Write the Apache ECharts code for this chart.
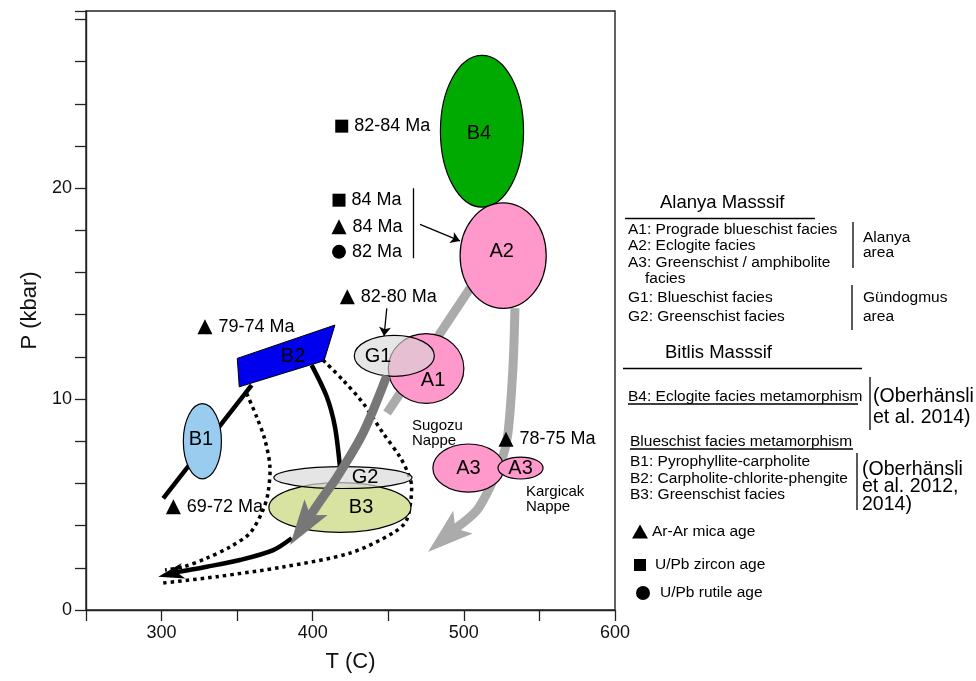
<!DOCTYPE html>
<html>
<head>
<meta charset="utf-8">
<script src="https://cdn.jsdelivr.net/npm/echarts@6/dist/echarts.min.js"></script>
<style>
  html, body { margin: 0; padding: 0; background: #fff; }
  #chart { width: 976px; height: 681px; }
</style>
</head>
<body>
<div id="chart"></div>
<script>
// ---- P–T data: temperature (°C) vs pressure (kbar) ----
const tempTicks = [300, 400, 500, 600];
const pressTicks = [0, 10, 20];

// Metamorphic fields: centre T, centre P, half extent in T, half extent in P
const fieldNames  = ['B4', 'A2', 'A1', 'A3', 'A3', 'B1', 'B3', 'G2', 'G1'];
const fieldT      = [512, 526, 475, 503, 537.5, 327, 418, 420, 454];
const fieldP      = [22.7, 16.8, 11.45, 6.73, 6.73, 8.0, 4.86, 6.28, 12.05];
const fieldHalfT  = [27.5, 28.5, 25, 23.5, 14.9, 12.6, 47, 45.7, 26.5];
const fieldHalfP  = [3.6, 2.5, 1.65, 1.14, 0.52, 1.78, 1.18, 0.52, 0.97];
const fieldLabelT = [510, 525, 479.6, 503, 537.5, 326, 432, 434.6, 443.2];
const fieldLabelP = [22.6, 17.0, 10.9, 6.73, 6.73, 8.1, 4.88, 6.3, 12.04];

// B2 field (carpholite-chlorite-phengite) outline
const b2T = [350.1, 414.7, 407.5, 351.4];
const b2P = [11.93, 13.51, 11.82, 10.58];

// P–T paths as [T, P] pairs
const pathA2toA1   = [[504.1, 15.26], [449.2, 9.34]];
const pathA2toA3   = [[533.8, 14.31], [532.5, 11.52], [529.2, 8.39], [525.2, 7.11], [517.3, 5.83], [508.7, 4.74], [476.3, 2.75]];
const pathG1toG2   = [[449, 11.1], [433.3, 8.39], [416.1, 6.30], [406.8, 5.36], [385, 3.08]];
const pathB1toB2   = [[301.1, 5.29], [359.6, 10.66]];
const pathB2toG2   = [[399.3, 11.61], [409.3, 10.11], [414.7, 8.69], [418, 6.79]];
const pathB3exit   = [[386.1, 3.40], [373.9, 2.84], [351.9, 2.37], [329.9, 2.05], [312.2, 1.82], [297.8, 1.58]];
const envelopeLeft = [[356.3, 10.27], [362.9, 9.16], [368.4, 8.06], [371.7, 6.79], [370.4, 5.54], [367.1, 4.74], [358.5, 3.65], [345.3, 2.99], [329.9, 2.46], [314.2, 2.04], [302.3, 1.90]];
const envelopeRight = [[406.8, 11.85], [420, 10.9], [433.3, 9.81], [446.5, 8.39], [457.8, 7.25], [463, 6.49], [465.5, 5.84], [462.2, 4.27], [453.1, 3.65], [424.7, 2.70], [380.3, 2.04], [336.5, 1.58], [301, 1.28]];

// Geochronology: [T, P, age]
const micaAges   = [[417.4, 18.17, '84 Ma'], [422.9, 14.85, '82-80 Ma'], [328.7, 13.43, '79-74 Ma'], [307.8, 4.9, '69-72 Ma'], [527.9, 8.09, '78-75 Ma']];
const zirconAges = [[419.2, 22.94, '82-84 Ma'], [417.4, 19.43, '84 Ma']];
const rutileAges = [[417.4, 16.98, '82 Ma']];

// Bracket and pointers tying ages to fields
const ageBracket = [[466.2, 20.0], [466.2, 16.68]];
const pointerA2  = [[471, 18.28], [497.4, 17.5]];
const pointerG1  = [[449, 14.3], [447.2, 12.99]];

// Nappe names: [T, P, text]
const nappeNames = [[465.7, 8.72, 'Sugozu'], [465.7, 8.01, 'Nappe'], [541.1, 5.59, 'Kargicak'], [541.1, 4.88, 'Nappe']];

// ---- styles ----
const FONT = '"Liberation Sans", Arial, Helvetica, sans-serif';
const fieldStyle = {
  B4: { fill: '#00aa00' },
  A2: { fill: '#ff99cc' },
  A1: { fill: '#ff99cc' },
  A3: { fill: '#ff99cc' },
  B1: { fill: '#99ccee' },
  B3: { fill: '#d9e3a1' },
  G2: { fill: 'rgba(218,218,218,0.7)' },
  G1: { fill: 'rgba(215,215,215,0.62)' }
};
const lightGray = '#ababab';
const darkGray = '#777777';

function pathSeries(name, pts, style, head) {
  return {
    type: 'custom', name: name, coordinateSystem: 'cartesian2d', silent: true,
    data: [0],
    renderItem: function (params, api) {
      const px = pts.map(p => api.coord(p));
      const children = [];
      const shaft = px.slice();
      if (head) {
        const tip = px[px.length - 1], prev = px[px.length - 2];
        let dx = tip[0] - prev[0], dy = tip[1] - prev[1];
        const len = Math.hypot(dx, dy); dx /= len; dy /= len;
        const nx = -dy, ny = dx;
        const notch = [tip[0] - dx * head.notch, tip[1] - dy * head.notch];
        const back = [tip[0] - dx * head.length, tip[1] - dy * head.length];
        shaft[shaft.length - 1] = notch;
        children.push({
          type: 'polygon',
          shape: { points: [tip, [back[0] + nx * head.half, back[1] + ny * head.half], notch, [back[0] - nx * head.half, back[1] - ny * head.half]] },
          style: { fill: style.stroke }
        });
      }
      children.unshift({
        type: 'polyline',
        shape: { points: shaft, smooth: style.smooth || 0 },
        style: { stroke: style.stroke, lineWidth: style.width, lineDash: style.dash || null, fill: null, lineCap: style.cap || 'butt', lineJoin: 'round' }
      });
      return { type: 'group', children: children };
    }
  };
}

function fieldSeries(indices) {
  return {
    type: 'custom', name: 'fields', coordinateSystem: 'cartesian2d', silent: true,
    data: indices,
    renderItem: function (params, api) {
      const i = indices[params.dataIndex];
      const c = api.coord([fieldT[i], fieldP[i]]);
      const s = api.size([fieldHalfT[i], fieldHalfP[i]]);
      const l = api.coord([fieldLabelT[i], fieldLabelP[i]]);
      return {
        type: 'group',
        children: [
          { type: 'ellipse', shape: { cx: c[0], cy: c[1], rx: s[0], ry: s[1] },
            style: { fill: fieldStyle[fieldNames[i]].fill, stroke: '#000', lineWidth: 1.2 } },
          { type: 'text', x: l[0], y: l[1],
            style: { text: fieldNames[i], fontSize: 20, fontFamily: FONT, fill: '#000', align: 'center', verticalAlign: 'middle' } }
        ]
      };
    }
  };
}

const b2Series = {
  type: 'custom', name: 'B2', coordinateSystem: 'cartesian2d', silent: true,
  data: [0],
  renderItem: function (params, api) {
    const pts = b2T.map((t, k) => api.coord([t, b2P[k]]));
    const l = api.coord([387, 12.0]);
    return {
      type: 'group',
      children: [
        { type: 'polygon', shape: { points: pts }, style: { fill: '#0000ee', stroke: '#000', lineWidth: 1 } },
        { type: 'text', x: l[0], y: l[1], style: { text: 'B2', fontSize: 20, fontFamily: FONT, fill: '#000', align: 'center', verticalAlign: 'middle' } }
      ]
    };
  }
};

const nappeSeries = {
  type: 'custom', name: 'nappes', coordinateSystem: 'cartesian2d', silent: true,
  data: nappeNames.map((d, k) => k),
  renderItem: function (params, api) {
    const d = nappeNames[params.dataIndex];
    const p = api.coord([d[0], d[1]]);
    return { type: 'text', x: p[0], y: p[1], style: { text: d[2], fontSize: 15, fontFamily: FONT, fill: '#000', align: 'left', verticalAlign: 'middle' } };
  }
};

function ageSeries(name, data, symbol, size) {
  return {
    type: 'scatter', name: name, data: data, symbol: symbol, symbolSize: size,
    itemStyle: { color: '#000', opacity: 1 }, silent: true,
    label: { show: true, position: 'right', distance: 6, formatter: p => p.data[2],
      fontSize: 18, fontFamily: FONT, color: '#000', opacity: 1 }
  };
}

function thinLine(name, coords, arrow) {
  return {
    type: 'lines', name: name, coordinateSystem: 'cartesian2d', silent: true,
    symbol: arrow ? ['none', 'arrow'] : ['none', 'none'], symbolSize: 9,
    lineStyle: { color: '#000', width: 1.3, opacity: 1 },
    data: [{ coords: coords }]
  };
}

// ---- legend panel (right side) ----
function txt(x, y, s, size, extra) {
  return Object.assign({ type: 'text', x: x, y: y, silent: true,
    style: { text: s, fontSize: size, fontFamily: FONT, fill: '#000', verticalAlign: 'middle' } }, extra || {});
}
function seg(x1, y1, x2, y2) {
  return { type: 'line', silent: true, shape: { x1: x1, y1: y1, x2: x2, y2: y2 }, style: { stroke: '#000', lineWidth: 1.3 } };
}
const S = 15.5, H = 18.5, R = 19.5;
const legendGraphics = [
  txt(660, 203, 'Alanya Masssif', H),
  seg(625, 218.5, 815, 218.5),
  txt(628, 230, 'A1: Prograde blueschist facies', S),
  txt(628, 246, 'A2: Eclogite facies', S),
  txt(628, 263, 'A3: Greenschist / amphibolite', S),
  txt(645, 279, 'facies', S),
  seg(853, 222, 853, 268),
  txt(863, 238, 'Alanya', S),
  txt(863, 253, 'area', S),
  txt(628, 298, 'G1: Blueschist facies', S),
  txt(628, 317, 'G2: Greenschist facies', S),
  seg(852, 285, 852, 330),
  txt(863, 298, 'Gündogmus', S),
  txt(863, 317, 'area', S),
  txt(665, 353, 'Bitlis Masssif', H),
  seg(623, 368.5, 862, 368.5),
  txt(628, 397, 'B4: Eclogite facies metamorphism', S),
  seg(628, 404, 858, 404),
  seg(870, 377, 870, 430),
  txt(873, 397, '(Oberhänsli', R),
  txt(873, 418, 'et al. 2014)', R),
  txt(630, 442, 'Blueschist facies metamorphism', S),
  seg(630, 449, 853, 449),
  txt(630, 462, 'B1: Pyrophyllite-carpholite', S),
  txt(630, 479, 'B2: Carpholite-chlorite-phengite', S),
  txt(630, 495, 'B3: Greenschist facies', S),
  seg(857, 453, 857, 510),
  txt(862, 470, '(Oberhänsli', R),
  txt(862, 487, 'et al. 2012,', R),
  txt(862, 505, '2014)', R),
  { type: 'polygon', silent: true, shape: { points: [[640, 524.5], [648, 538.5], [632, 538.5]] }, style: { fill: '#000' } },
  txt(652, 532, 'Ar-Ar mica age', S),
  { type: 'rect', silent: true, shape: { x: 634, y: 559, width: 12, height: 12 }, style: { fill: '#000' } },
  txt(655, 565, 'U/Pb zircon age', S),
  { type: 'circle', silent: true, shape: { cx: 643, cy: 593, r: 7 }, style: { fill: '#000' } },
  txt(660, 593, 'U/Pb rutile age', S)
];

const chart = echarts.init(document.getElementById('chart'), null, { renderer: 'canvas' });
chart.setOption({
  animation: false,
  backgroundColor: '#fff',
  grid: { left: 86, right: 361, top: 11, bottom: 71, show: true, borderColor: '#222', borderWidth: 1.4, backgroundColor: 'transparent' },
  xAxis: {
    type: 'value', min: 250, max: 600, interval: 50,
    name: 'T (C)', nameLocation: 'middle', nameGap: 41,
    nameTextStyle: { fontSize: 22, fontFamily: FONT, color: '#111' },
    axisLine: { lineStyle: { color: '#222', width: 1.4 } },
    axisTick: { length: 11, lineStyle: { color: '#222', width: 1.3 } },
    axisLabel: { formatter: v => (tempTicks.includes(v) ? String(v) : ''), fontSize: 18, fontFamily: FONT, color: '#111', margin: 14 },
    splitLine: { show: false }
  },
  yAxis: {
    type: 'value', min: 0, max: 28.4, interval: 2,
    name: 'P (kbar)', nameLocation: 'middle', nameGap: 45, nameRotate: 90,
    nameTextStyle: { fontSize: 22, fontFamily: FONT, color: '#111' },
    axisLine: { lineStyle: { color: '#222', width: 1.4 } },
    axisTick: { length: 11, lineStyle: { color: '#222', width: 1.3 } },
    axisLabel: { formatter: v => (pressTicks.includes(v) ? String(v) : ''), fontSize: 18, fontFamily: FONT, color: '#111', margin: 14 },
    splitLine: { show: false }
  },
  graphic: legendGraphics,
  series: [
    pathSeries('A2-A1', pathA2toA1, { stroke: lightGray, width: 9 }),
    pathSeries('A2-A3', pathA2toA3, { stroke: lightGray, width: 9, smooth: 0.3 }, { length: 46, notch: 36, half: 15 }),
    pathSeries('envelope left', envelopeLeft, { stroke: '#000', width: 3.5, dash: [3.5, 4], smooth: 0.3 }),
    pathSeries('envelope right', envelopeRight, { stroke: '#000', width: 3.5, dash: [3.5, 4], smooth: 0.3 }),
    pathSeries('B1-B2', pathB1toB2, { stroke: '#000', width: 4.5 }),
    pathSeries('B2-G2', pathB2toG2, { stroke: '#000', width: 4.5, smooth: 0.3 }),
    pathSeries('B3 exhumation', pathB3exit, { stroke: '#000', width: 4.5, smooth: 0.3 }, { length: 26, notch: 19, half: 8 }),
    fieldSeries([0, 1, 2, 3, 4, 5, 6, 7, 8]),
    b2Series,
    pathSeries('G1-G2', pathG1toG2, { stroke: darkGray, width: 9, smooth: 0.3 }, { length: 46, notch: 36, half: 14 }),
    thinLine('age bracket', ageBracket, false),
    thinLine('pointer A2', pointerA2, true),
    thinLine('pointer G1', pointerG1, true),
    nappeSeries,
    ageSeries('Ar-Ar mica age', micaAges, 'triangle', 15),
    ageSeries('U/Pb zircon age', zirconAges, 'rect', 13),
    ageSeries('U/Pb rutile age', rutileAges, 'circle', 14)
  ]
});
</script>
</body>
</html>
